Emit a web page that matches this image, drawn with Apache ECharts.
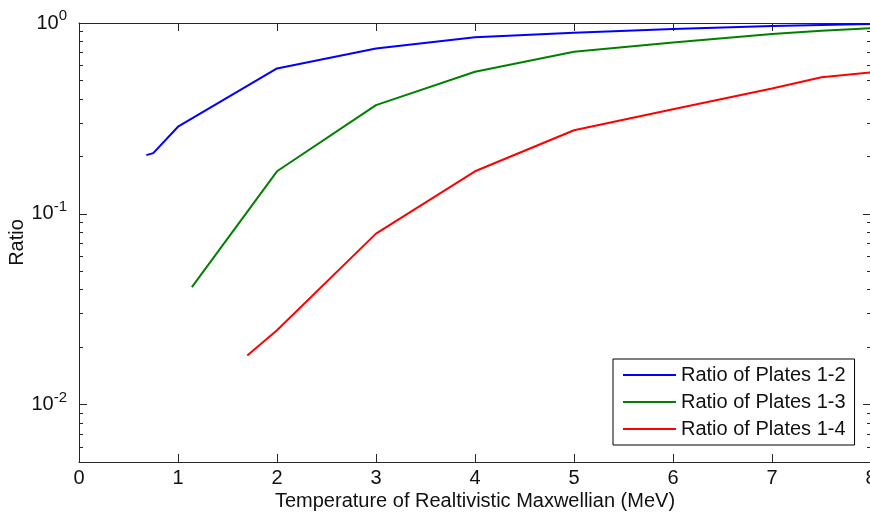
<!DOCTYPE html>
<html>
<head>
<meta charset="utf-8">
<script src="https://cdn.jsdelivr.net/npm/echarts@6/dist/echarts.min.js"></script>
<style>
html,body{margin:0;padding:0;background:#fff;}
#chart{width:870px;height:518px;}
</style>
</head>
<body>
<div id="chart"></div>
<script>
// ---- data ----
const seriesNames = ['Ratio of Plates 1-2', 'Ratio of Plates 1-3', 'Ratio of Plates 1-4'];
const blueX = [0.68, 0.75, 1, 2, 3, 4, 5, 6, 7, 7.5, 8];
const blueY = [0.203, 0.208, 0.286, 0.578, 0.736, 0.841, 0.889, 0.930, 0.964, 0.976, 0.987];
const greenX = [1.14, 2, 3, 4, 5, 6, 7, 7.5, 8];
const greenY = [0.0413, 0.167, 0.371, 0.555, 0.707, 0.790, 0.876, 0.911, 0.940];
const redX = [1.7, 2, 3, 4, 5, 6, 7, 7.5, 8];
const redY = [0.0181, 0.0245, 0.0787, 0.167, 0.274, 0.353, 0.454, 0.519, 0.551];
const xTicks = [0, 1, 2, 3, 4, 5, 6, 7, 8];
const yMajorTicks = [0.01, 0.1, 1];
const yMinorTicks = [0.005, 0.006, 0.007, 0.008, 0.009,
  0.02, 0.03, 0.04, 0.05, 0.06, 0.07, 0.08, 0.09,
  0.2, 0.3, 0.4, 0.5, 0.6, 0.7, 0.8, 0.9];
const xTitle = 'Temperature of Realtivistic Maxwellian (MeV)';
const yTitle = 'Ratio';

const pairs = (xs, ys) => xs.map((x, i) => [x, ys[i]]);
const FONT = 'Liberation Sans, Arial, sans-serif';
const AX = '#262626';

const chart = echarts.init(document.getElementById('chart'), null, {renderer: 'canvas'});

function xAxisDef(pos, showLabel) {
  return {
    type: 'value', position: pos, min: 0, max: 8, interval: 1,
    axisLine: {show: true, onZero: false, lineStyle: {color: AX, width: 1}},
    axisTick: {show: true, inside: true, length: 8, lineStyle: {color: AX}},
    axisLabel: {show: showLabel, margin: 6, fontSize: 20, fontFamily: FONT, color: '#111',
      showMinLabel: true, showMaxLabel: true},
    splitLine: {show: false},
    name: showLabel ? xTitle : '',
    nameLocation: 'middle', nameGap: 29, nameMoveOverlap: false,
    nameTextStyle: {fontSize: 20, fontFamily: FONT, color: '#111'}
  };
}
function yAxisDef(pos, ticks, len, showLabel, showLine, name) {
  return {
    type: 'log', logBase: 10, position: pos, min: 0.005, max: 1,
    axisLine: {show: showLine, onZero: false, lineStyle: {color: AX, width: 1}},
    axisTick: {show: true, inside: true, length: len, customValues: ticks, lineStyle: {color: AX}},
    axisLabel: {
      show: showLabel, customValues: yMajorTicks, margin: 12,
      formatter: v => '{b|10}{s|' + Math.round(Math.log10(v)) + '}',
      rich: {
        b: {fontSize: 20, fontFamily: FONT, color: '#111'},
        s: {fontSize: 15, fontFamily: FONT, color: '#111', padding: [0, 0, 14, 0]}
      }
    },
    splitLine: {show: false},
    minorTick: {show: false},
    name: name || '',
    nameLocation: 'middle', nameGap: 52, nameRotate: 90, nameMoveOverlap: false,
    nameTextStyle: {fontSize: 20, fontFamily: FONT, color: '#111'}
  };
}

const colors = ['#0000ff', '#008000', '#ff0000'];
const dataSets = [pairs(blueX, blueY), pairs(greenX, greenY), pairs(redX, redY)];

chart.setOption({
  animation: false,
  backgroundColor: '#fff',
  grid: {left: 79, top: 23, width: 792, height: 439, containLabel: false, outerBoundsMode: 'none'},
  xAxis: [xAxisDef('bottom', true), xAxisDef('top', false)],
  yAxis: [
    yAxisDef('left', yMajorTicks, 8, true, true, yTitle),
    yAxisDef('left', yMinorTicks, 4, false, false),
    yAxisDef('right', yMajorTicks, 8, false, true),
    yAxisDef('right', yMinorTicks, 4, false, false)
  ],
  legend: {
    orient: 'vertical', left: 613, top: 359,
    backgroundColor: '#fff', borderColor: '#000', borderWidth: 1,
    padding: [6, 9, 6, 10], itemWidth: 53, itemHeight: 2, itemGap: 7,
    icon: 'rect',
    textStyle: {fontSize: 20, fontFamily: FONT, color: '#111'},
    data: seriesNames
  },
  series: seriesNames.map((n, i) => ({
    name: n, type: 'line', xAxisIndex: 0, yAxisIndex: 0,
    data: dataSets[i], symbol: 'none', smooth: false,
    lineStyle: {color: colors[i], width: 2},
    itemStyle: {color: colors[i]}
  }))
});
</script>
</body>
</html>
